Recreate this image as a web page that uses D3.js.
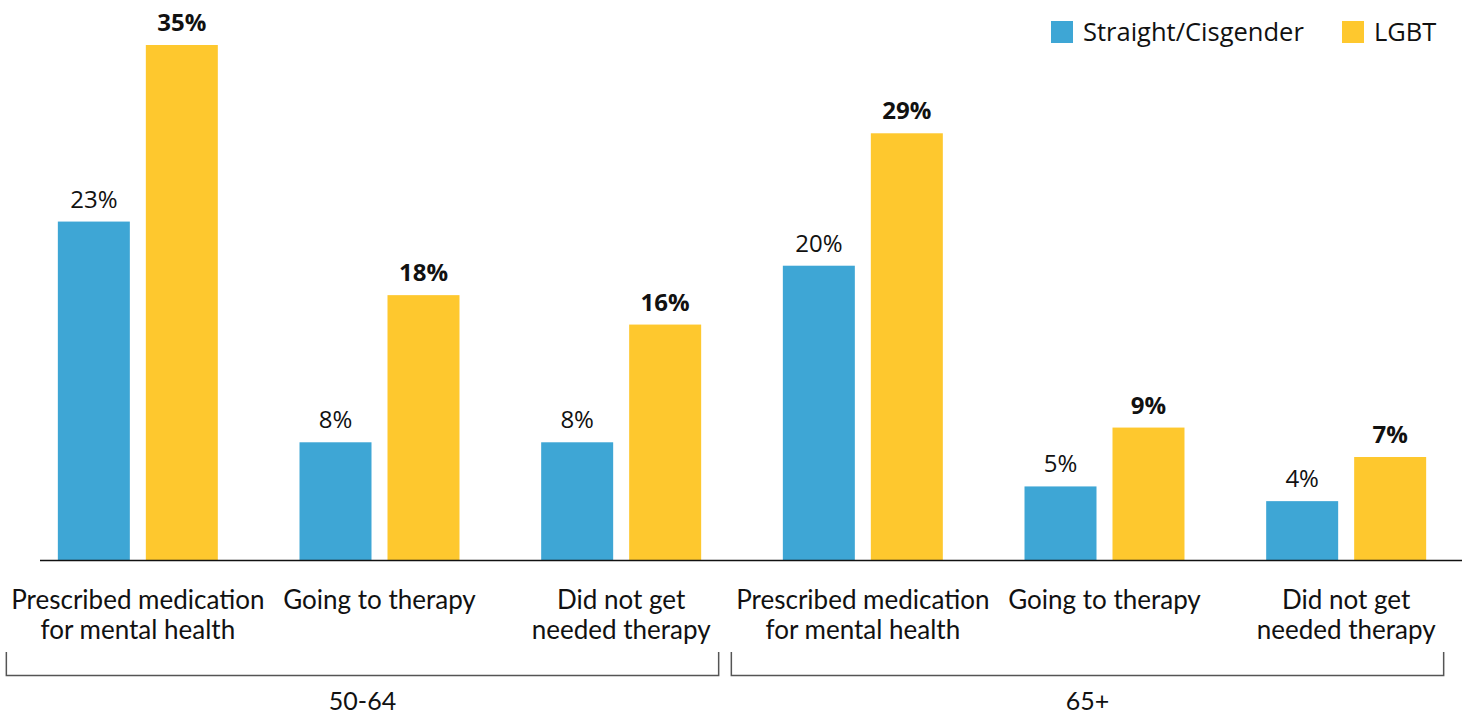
<!DOCTYPE html>
<html>
<head>
<meta charset="utf-8">
<script src="https://cdn.jsdelivr.net/npm/d3@7"></script>
<style>
  html, body { margin: 0; padding: 0; background: #fff; }
  svg { display: block; }
</style>
</head>
<body>
<svg id="chart" width="1470" height="715"></svg>
<script>
// Categories: each bar pair, grouped by age band
const categories = ["med_5064", "ther_5064", "unmet_5064", "med_65", "ther_65", "unmet_65"];
const categoryLabels = [
  ["Prescribed medication", "for mental health"],
  ["Going to therapy"],
  ["Did not get", "needed therapy"],
  ["Prescribed medication", "for mental health"],
  ["Going to therapy"],
  ["Did not get", "needed therapy"]
];
const ageGroups = ["50-64", "65+"];
const ageGroupMembers = [
  ["med_5064", "ther_5064", "unmet_5064"],
  ["med_65", "ther_65", "unmet_65"]
];
const seriesNames = ["Straight/Cisgender", "LGBT"];
const straightValues = [23, 8, 8, 20, 5, 4];
const lgbtValues = [35, 18, 16, 29, 9, 7];

const colors = { "Straight/Cisgender": "#3ea6d5", "LGBT": "#fec82e" };

const rows = categories.map((c, i) => ({
  key: c,
  values: [
    { series: "Straight/Cisgender", value: straightValues[i] },
    { series: "LGBT", value: lgbtValues[i] }
  ]
}));

const svg = d3.select("#chart");

const x0 = d3.scaleBand()
  .domain(categories)
  .range([17, 1467])
  .paddingInner(0.338)
  .paddingOuter(0.169);

const x1 = d3.scaleBand()
  .domain(seriesNames)
  .range([0, x0.bandwidth()])
  .paddingInner(16 / 88)
  .paddingOuter(0);

const y = d3.scaleLinear()
  .domain([0, 35])
  .range([560, 45]);

// Bars
const groups = svg.append("g").selectAll("g")
  .data(rows)
  .join("g")
  .attr("transform", d => `translate(${x0(d.key)},0)`);

groups.selectAll("rect")
  .data(d => d.values)
  .join("rect")
  .attr("x", d => x1(d.series))
  .attr("y", d => y(d.value))
  .attr("width", x1.bandwidth())
  .attr("height", d => y(0) - y(d.value))
  .attr("fill", d => colors[d.series]);

// Value labels
groups.selectAll("text.val")
  .data(d => d.values)
  .join("text")
  .attr("class", "val")
  .attr("x", d => x1(d.series) + x1.bandwidth() / 2)
  .attr("y", d => y(d.value) - 14)
  .attr("text-anchor", "middle")
  .attr("font-family", "'Open Sans', sans-serif")
  .attr("font-size", 24)
  .attr("font-weight", d => d.series === "LGBT" ? 700 : 400)
  .attr("fill", "#111")
  .text(d => d.value + "%");

// Baseline axis
svg.append("line")
  .attr("x1", 40).attr("x2", 1462)
  .attr("y1", y(0) + 0.5).attr("y2", y(0) + 0.5)
  .attr("stroke", "#111")
  .attr("stroke-width", 1.5);

// Category labels
const catText = svg.append("g").selectAll("text")
  .data(categories)
  .join("text")
  .attr("text-anchor", "middle")
  .attr("font-family", "Lato, sans-serif")
  .attr("font-size", 26)
  .attr("fill", "#111")
  .attr("transform", d => `translate(${x0(d) + x0.bandwidth() / 2},609)`);

catText.selectAll("tspan")
  .data((d, i) => categoryLabels[i])
  .join("tspan")
  .attr("x", 0)
  .attr("y", (d, i) => i * 30)
  .text(d => d);

// Age group brackets
const bracketY = 675.5;
ageGroups.forEach((g, i) => {
  const members = ageGroupMembers[i];
  const left = x0(members[0]) - 52;
  const right = x0(members[members.length - 1]) + x0.bandwidth() + 18;
  svg.append("path")
    .attr("d", `M${left + 0.5},652 V${bracketY} H${right - 0.5} V652`)
    .attr("fill", "none")
    .attr("stroke", "#555")
    .attr("stroke-width", 1.5);
  svg.append("text")
    .attr("x", (left + right) / 2)
    .attr("y", 710)
    .attr("text-anchor", "middle")
    .attr("font-family", "Lato, sans-serif")
    .attr("font-size", 25)
    .attr("fill", "#111")
    .text(g);
});

// Legend
const legendItems = [
  { name: "Straight/Cisgender", x: 1051 },
  { name: "LGBT", x: 1342 }
];
const legend = svg.append("g").selectAll("g")
  .data(legendItems)
  .join("g")
  .attr("transform", d => `translate(${d.x},21)`);
legend.append("rect")
  .attr("width", 22).attr("height", 22)
  .attr("fill", d => colors[d.name]);
legend.append("text")
  .attr("x", 32)
  .attr("y", 20)
  .attr("font-family", "'Open Sans', sans-serif")
  .attr("font-size", 25.5)
  .attr("fill", "#111")
  .text(d => d.name);
</script>
</body>
</html>
